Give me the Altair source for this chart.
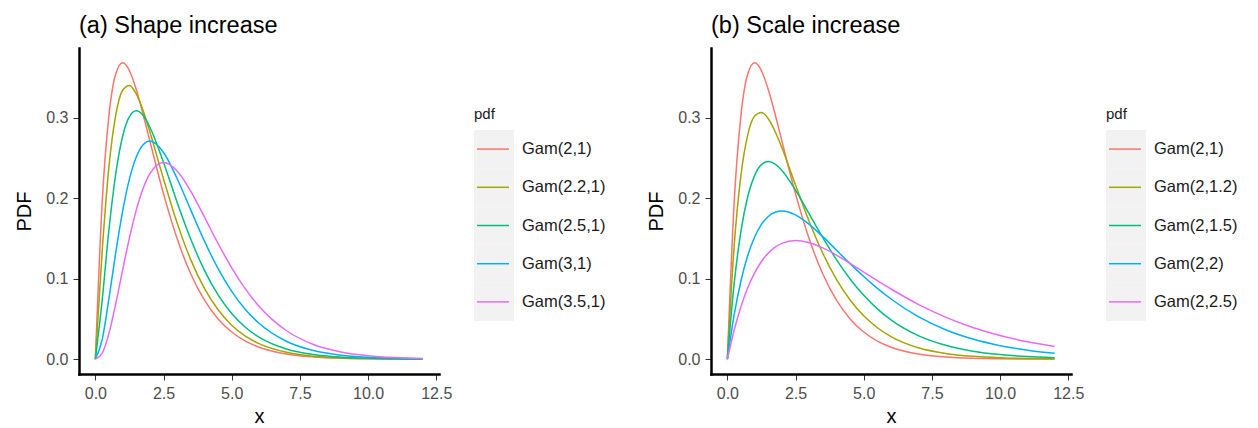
import altair as alt
import pandas as pd

F = "Liberation Sans"

x_vals = [0, 0.25, 0.5, 0.75, 1, 1.25, 1.5, 1.75, 2, 2.5, 3, 3.5, 4, 4.5, 5, 5.5, 6, 7, 8, 9, 10, 11, 12]

shape_labels = ["Gam(2,1)", "Gam(2.2,1)", "Gam(2.5,1)", "Gam(3,1)", "Gam(3.5,1)"]
scale_labels = ["Gam(2,1)", "Gam(2,1.2)", "Gam(2,1.5)", "Gam(2,2)", "Gam(2,2.5)"]
colors = ["#F8766D", "#A3A500", "#00BF7D", "#00B0F6", "#E76BF3"]

gam_2_1 = [0, 0.1947, 0.3033, 0.3543, 0.3679, 0.3581, 0.3347, 0.3041, 0.2707, 0.2052, 0.1494, 0.1057, 0.0733, 0.0500, 0.0337, 0.0225, 0.0149, 0.0064, 0.0027, 0.0011, 0.0005, 0.0002, 0.0001]
gam_22_1 = [0, 0.1339, 0.2396, 0.3036, 0.3339, 0.3399, 0.3294, 0.3087, 0.2821, 0.2237, 0.1689, 0.1233, 0.0878, 0.0613, 0.0422, 0.0287, 0.0193, 0.0086, 0.0037, 0.0016, 0.0007, 0.0003, 0.0001]
gam_25_1 = [0, 0.0732, 0.1613, 0.2308, 0.2768, 0.3012, 0.3083, 0.3027, 0.2879, 0.2441, 0.1946, 0.1488, 0.1103, 0.0798, 0.0567, 0.0397, 0.0274, 0.0127, 0.0057, 0.0025, 0.0011, 0.0005, 0.0002]
gam_3_1 = [0, 0.0243, 0.0758, 0.1329, 0.1839, 0.2238, 0.2510, 0.2661, 0.2707, 0.2565, 0.2240, 0.1850, 0.1465, 0.1125, 0.0842, 0.0618, 0.0446, 0.0223, 0.0107, 0.0050, 0.0023, 0.0010, 0.0004]
gam_35_1 = [0, 0.0073, 0.0323, 0.0692, 0.1107, 0.1506, 0.1850, 0.2119, 0.2303, 0.2441, 0.2335, 0.2083, 0.1764, 0.1436, 0.1133, 0.0872, 0.0658, 0.0356, 0.0182, 0.0090, 0.0043, 0.0020, 0.0009]

gam_2_12 = [0, 0.1410, 0.2289, 0.2788, 0.3018, 0.3063, 0.2985, 0.2827, 0.2624, 0.2162, 0.1710, 0.1315, 0.0991, 0.0735, 0.0538, 0.0390, 0.0281, 0.0142, 0.0071, 0.0035, 0.0017, 0.0008, 0.0004]
gam_2_15 = [0, 0.0941, 0.1592, 0.2022, 0.2282, 0.2415, 0.2453, 0.2422, 0.2343, 0.2099, 0.1804, 0.1509, 0.1236, 0.0996, 0.0793, 0.0625, 0.0488, 0.0292, 0.0172, 0.0099, 0.0057, 0.0032, 0.0018]
gam_2_2 = [0, 0.0552, 0.0974, 0.1289, 0.1516, 0.1673, 0.1772, 0.1824, 0.1839, 0.1791, 0.1673, 0.1521, 0.1353, 0.1186, 0.1026, 0.0879, 0.0747, 0.0528, 0.0366, 0.0250, 0.0168, 0.0112, 0.0074]
gam_2_25 = [0, 0.0362, 0.0655, 0.0889, 0.1072, 0.1213, 0.1317, 0.1391, 0.1438, 0.1472, 0.1446, 0.1381, 0.1292, 0.1190, 0.1082, 0.0975, 0.0871, 0.0681, 0.0522, 0.0393, 0.0293, 0.0216, 0.0158]

x_ticks = [0, 2.5, 5, 7.5, 10, 12.5]
y_ticks = [0, 0.1, 0.2, 0.3]

W, H = 360, 326


def panel(title, labels, series):
    rows = []
    for lab, ys in zip(labels, series):
        for xv, yv in zip(x_vals, ys):
            rows.append({"x": xv, "y": yv, "series": lab})
    df = pd.DataFrame(rows)
    leg = pd.DataFrame({"series": labels})
    color = alt.Color("series:N", scale=alt.Scale(domain=labels, range=colors), legend=None)

    lines = alt.Chart(df).mark_line(strokeWidth=1.5, interpolate="monotone").encode(
        x=alt.X("x:Q", scale=alt.Scale(domain=[-0.6, 12.6], nice=False, zero=False),
                axis=alt.Axis(values=x_ticks, format=".1f", title="x")),
        y=alt.Y("y:Q", scale=alt.Scale(domain=[-0.0184, 0.3863], nice=False, zero=False),
                axis=alt.Axis(values=y_ticks, format=".1f", title="PDF")),
        color=color,
    )

    ly = alt.Y("series:N", scale=alt.Scale(domain=labels, range=[82, 273], paddingInner=0, paddingOuter=0),
               axis=None)
    bg = alt.Chart(leg).mark_rect(color="#f2f2f2").encode(
        y=ly, x=alt.value(395), x2=alt.value(435))
    keys = alt.Chart(leg).mark_rule(strokeWidth=1.5).encode(
        y=ly, x=alt.value(398), x2=alt.value(430), color=color)
    texts = alt.Chart(leg).mark_text(align="left", baseline="middle", font=F, fontSize=16.5,
                                     color="#1a1a1a").encode(
        y=ly, x=alt.value(443), text="series:N")
    ttl = alt.Chart(pd.DataFrame({"t": ["pdf"]})).mark_text(
        align="left", baseline="middle", font=F, fontSize=15, color="#1a1a1a").encode(
        x=alt.value(395), y=alt.value(66), text="t:N")

    return alt.layer(lines, bg, keys, texts, ttl).resolve_scale(y="independent").properties(
        width=W, height=H,
        title=alt.TitleParams(title, anchor="start", frame="group", font=F, fontSize=23.5,
                              fontWeight="normal", color="black", baseline="alphabetic", offset=-8),
    )


left = panel("(a) Shape increase", shape_labels, [gam_2_1, gam_22_1, gam_25_1, gam_3_1, gam_35_1])
right = panel("(b) Scale increase", scale_labels, [gam_2_1, gam_2_12, gam_2_15, gam_2_2, gam_2_25])

chart = alt.hconcat(left, right, spacing=40).resolve_scale(color="independent").properties(
    padding={"left": 14, "top": 13, "right": 5, "bottom": 5}
).configure_view(stroke=None).configure_axis(
    grid=False, domainColor="black", domainWidth=2.5, domainCap="square",
    tickColor="#333333", tickSize=6, tickWidth=1,
    labelFont=F, labelFontSize=16, labelColor="#4d4d4d", labelPadding=5, labelFlush=False,
    titleFont=F, titleFontSize=20, titleFontWeight="normal", titleColor="black",
).configure_axisX(titlePadding=5).configure_axisY(titlePadding=11)

chart.save("out.html", embed_options={"renderer": "svg", "actions": False})
